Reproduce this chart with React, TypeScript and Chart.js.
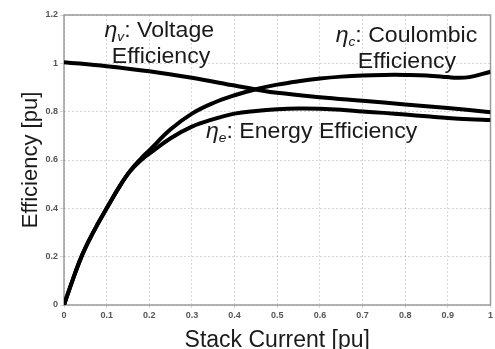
import React, { useEffect, useRef } from "react";
import { Chart, registerables } from "chart.js";

Chart.register(...registerables);

const coulombX = [0, 0.02, 0.04, 0.06, 0.08, 0.1, 0.13, 0.155, 0.18, 0.2, 0.25, 0.3, 0.35, 0.4, 0.45, 0.5, 0.55, 0.6, 0.65, 0.7, 0.75, 0.8, 0.85, 0.9, 0.92, 0.95, 1.0];
const coulombY = [0, 0.102, 0.196, 0.272, 0.338, 0.4, 0.49, 0.555, 0.605, 0.64, 0.727, 0.792, 0.836, 0.868, 0.893, 0.912, 0.926, 0.937, 0.945, 0.95, 0.952, 0.952, 0.95, 0.943, 0.94, 0.943, 0.965];

const energyX = [0, 0.02, 0.04, 0.06, 0.08, 0.1, 0.13, 0.155, 0.18, 0.2, 0.25, 0.3, 0.35, 0.4, 0.45, 0.5, 0.55, 0.6, 0.65, 0.7, 0.75, 0.8, 0.85, 0.9, 0.95, 1.0];
const energyY = [0, 0.102, 0.196, 0.272, 0.338, 0.4, 0.49, 0.553, 0.598, 0.626, 0.69, 0.738, 0.769, 0.792, 0.803, 0.81, 0.813, 0.812, 0.808, 0.801, 0.795, 0.788, 0.781, 0.774, 0.769, 0.766];

const voltageX = [0, 0.1, 0.2, 0.3, 0.4, 0.45, 0.5, 0.6, 0.7, 0.8, 0.9, 1.0];
const voltageY = [1.005, 0.988, 0.967, 0.94, 0.908, 0.892, 0.878, 0.86, 0.845, 0.83, 0.815, 0.798];

const xTicks = [0, 0.1, 0.2, 0.3, 0.4, 0.5, 0.6, 0.7, 0.8, 0.9, 1];
const yTicks = [0, 0.2, 0.4, 0.6, 0.8, 1, 1.2];

const xTitle = "Stack Current [pu]";
const yTitle = "Efficiency [pu]";

type Label = { sym: string; sub: string; lines: string[]; x: number; y: number };
const labels: Label[] = [
  { sym: "η", sub: "v", lines: [": Voltage", "Efficiency"], x: 0.095, y: 1.107 },
  { sym: "η", sub: "c", lines: [": Coulombic", "Efficiency"], x: 0.637, y: 1.087 },
  { sym: "η", sub: "e", lines: [": Energy Efficiency"], x: 0.333, y: 0.69 },
];

const toPts = (xs: number[], ys: number[]) => xs.map((x, i) => ({ x, y: ys[i] }));

const FONT = "'Liberation Sans', Arial, sans-serif";

const annotPlugin = {
  id: "annot",
  beforeDatasetsDraw(chart: any) {
    const { ctx, chartArea } = chart;
    ctx.save();
    ctx.strokeStyle = "#9a9a9a";
    ctx.lineWidth = 1.5;
    ctx.strokeRect(chartArea.left, chartArea.top, chartArea.right - chartArea.left, chartArea.bottom - chartArea.top);
    ctx.restore();
  },
  afterDatasetsDraw(chart: any) {
    const { ctx, scales } = chart;
    const xs = scales.x;
    const ys = scales.y;
    ctx.save();
    ctx.fillStyle = "#1a1a1a";
    ctx.textBaseline = "alphabetic";
    ctx.textAlign = "left";
    const fs = 22;
    labels.forEach((l, li) => {
      const px = xs.getPixelForValue(l.x);
      const py = ys.getPixelForValue(l.y);
      ctx.save();
      ctx.translate(px, py);
      ctx.scale(1.05, 1);
      ctx.font = `italic ${fs}px ${FONT}`;
      ctx.fillText(l.sym, 0, 0);
      let w = ctx.measureText(l.sym).width;
      ctx.font = `italic 13px ${FONT}`;
      ctx.fillText(l.sub, w, 4);
      w += ctx.measureText(l.sub).width;
      ctx.font = `${fs}px ${FONT}`;
      ctx.fillText(l.lines[0], w, 0);
      if (l.lines[1]) {
        const off = li === 0 ? 7 : 21;
        ctx.fillText(l.lines[1], off, 26);
      }
      ctx.restore();
    });
    ctx.restore();
  },
};

export default function App() {
  const ref = useRef<HTMLCanvasElement>(null);
  useEffect(() => {
    if (!ref.current) return;
    const ds = (data: { x: number; y: number }[]) => ({
      data,
      borderColor: "#000",
      borderWidth: 4,
      pointRadius: 0,
      fill: false,
      tension: 0.4,
    });
    const chart = new Chart(ref.current, {
      type: "line",
      data: {
        datasets: [
          ds(toPts(voltageX, voltageY)),
          ds(toPts(coulombX, coulombY)),
          ds(toPts(energyX, energyY)),
        ],
      },
      options: {
        animation: false,
        responsive: false,
        maintainAspectRatio: false,
        layout: { padding: { top: 15, right: 2, left: 0, bottom: 0 } },
        plugins: { legend: { display: false }, tooltip: { enabled: false } },
        scales: {
          x: {
            type: "linear",
            min: 0,
            max: 1,
            afterBuildTicks: (s: any) => {
              s.ticks = xTicks.map((v) => ({ value: v }));
            },
            afterFit: (s: any) => {
              s.height = 44;
            },
            ticks: {
              color: "#555",
              font: { family: FONT, size: 9, weight: "bold" },
              padding: 2,
              maxRotation: 0,
              callback: (v: any) => String(parseFloat(Number(v).toFixed(1))),
            },
            grid: { color: "rgba(0,0,0,0.16)", tickLength: 3, drawTicks: true },
            border: { display: false, dash: [2, 2] },
            title: {
              display: true,
              text: xTitle,
              color: "#1a1a1a",
              font: { family: FONT, size: 23 },
              padding: { top: 0, bottom: -5 },
            },
          },
          y: {
            type: "linear",
            min: 0,
            max: 1.2,
            afterBuildTicks: (s: any) => {
              s.ticks = yTicks.map((v) => ({ value: v }));
            },
            afterFit: (s: any) => {
              s.width = 64;
            },
            ticks: {
              color: "#555",
              font: { family: FONT, size: 9, weight: "bold" },
              padding: 2,
              callback: (v: any) => String(parseFloat(Number(v).toFixed(1))),
            },
            grid: { color: "rgba(0,0,0,0.16)", tickLength: 4 },
            border: { display: false, dash: [2, 2] },
            title: {
              display: true,
              text: yTitle,
              color: "#1a1a1a",
              font: { family: FONT, size: 22 },
              padding: { top: 18, bottom: 0 },
            },
          },
        },
      },
      plugins: [annotPlugin],
    });
    return () => chart.destroy();
  }, []);
  return (
    <div style={{ position: "fixed", left: 0, top: 0, width: 495, height: 349, background: "#fff" }}>
      <canvas ref={ref} width={495} height={349} style={{ width: 495, height: 349 }} />
    </div>
  );
}
